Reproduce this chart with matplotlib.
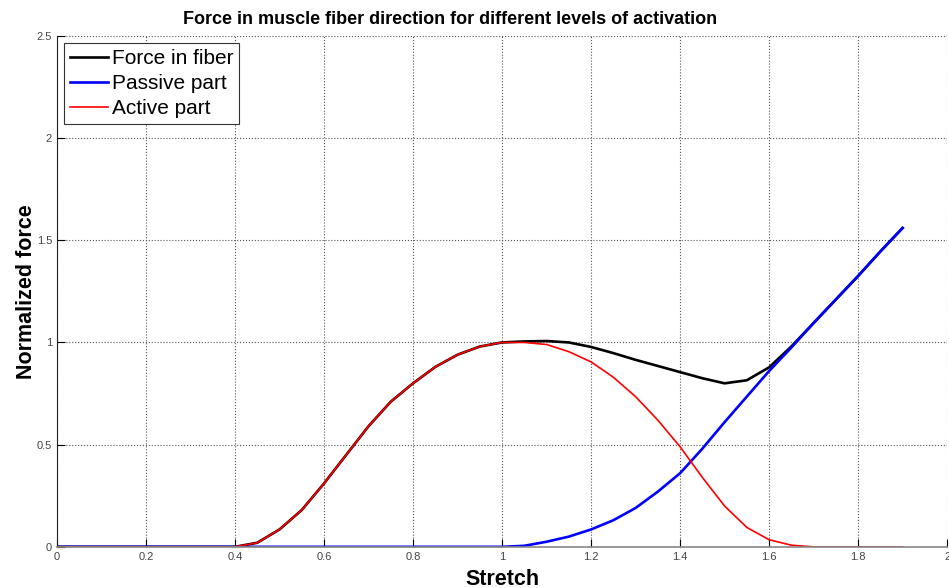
"""Force in muscle fibre direction: total, passive and active parts vs stretch."""

import numpy as np
import matplotlib

matplotlib.use("Agg")
import matplotlib.pyplot as plt

plt.rcParams["font.family"] = ["Liberation Sans", "DejaVu Sans"]

# stretch grid (0 .. 1.9, step 0.05) and curves
stretch = [
    0.00, 0.05, 0.10, 0.15, 0.20, 0.25, 0.30, 0.35, 0.40, 0.45,
    0.50, 0.55, 0.60, 0.65, 0.70, 0.75, 0.80, 0.85, 0.90, 0.95,
    1.00, 1.05, 1.10, 1.15, 1.20, 1.25, 1.30, 1.35, 1.40, 1.45,
    1.50, 1.55, 1.60, 1.65, 1.70, 1.75, 1.80, 1.85, 1.90,
]
active = [
    0.0, 0.0, 0.0, 0.0, 0.0, 0.0, 0.0, 0.0, 0.0, 0.02,
    0.085, 0.18, 0.31, 0.45, 0.59, 0.71, 0.80, 0.88, 0.94, 0.98,
    1.0, 1.0, 0.99, 0.955, 0.905, 0.83, 0.735, 0.62, 0.49, 0.34,
    0.2, 0.095, 0.035, 0.008, 0.0, 0.0, 0.0, 0.0, 0.0,
]
passive = [
    0.0, 0.0, 0.0, 0.0, 0.0, 0.0, 0.0, 0.0, 0.0, 0.0,
    0.0, 0.0, 0.0, 0.0, 0.0, 0.0, 0.0, 0.0, 0.0, 0.0,
    0.0, 0.005, 0.025, 0.05, 0.085, 0.13, 0.19, 0.27, 0.36, 0.48,
    0.61, 0.735, 0.86, 0.975, 1.095, 1.21, 1.325, 1.445, 1.56,
]
total = [
    0.0, 0.0, 0.0, 0.0, 0.0, 0.0, 0.0, 0.0, 0.0, 0.02,
    0.085, 0.18, 0.31, 0.45, 0.59, 0.71, 0.80, 0.88, 0.94, 0.98,
    1.0, 1.005, 1.007, 1.0, 0.978, 0.948, 0.915, 0.885, 0.855, 0.825,
    0.8, 0.815, 0.878, 0.98, 1.095, 1.21, 1.325, 1.445, 1.56,
]

xticks = [0, 0.2, 0.4, 0.6, 0.8, 1, 1.2, 1.4, 1.6, 1.8, 2]
yticks = [0, 0.5, 1, 1.5, 2, 2.5]

fig = plt.figure(figsize=(9.49, 5.88), dpi=100)
ax = fig.add_axes([0.060, 0.070, 0.938, 0.869])

ax.plot(stretch, total, color="black", lw=1.9, label="Force in fiber")
ax.plot(stretch, passive, color="#0000ff", lw=1.9, label="Passive part")
ax.plot(stretch, active, color="#ff0000", lw=1.2, label="Active part")

ax.set_xlim(0, 2)
ax.set_ylim(0, 2.5)
ax.set_xticks(xticks)
ax.set_xticklabels([f"{t:g}" for t in xticks])
ax.set_yticks(yticks)
ax.set_yticklabels([f"{t:g}" for t in yticks])
ax.tick_params(direction="in", length=6, width=0.8, labelsize=8,
               labelcolor="#444444", color="black")
ax.grid(True, ls=":", lw=0.8, color="#555555")

ax.spines["top"].set_visible(False)
ax.spines["right"].set_visible(False)
ax.spines["left"].set_color("#222222")
ax.spines["bottom"].set_color("#888888")
ax.spines["bottom"].set_linewidth(1.2)

ax.set_xlabel("Stretch", fontsize=15.5, fontweight="bold", labelpad=5)
ax.set_ylabel("Normalized force", fontsize=15.5, fontweight="bold", labelpad=0)
fig.text(0.474, 0.966, "Force in muscle fiber direction for different levels of activation",
         ha="center", va="center", fontsize=13, fontweight="bold")

leg = ax.legend(loc="upper left", fontsize=15, handlelength=1.8, handletextpad=0.22,
                borderaxespad=0.35, borderpad=0.28, labelspacing=0.3, fancybox=False,
                framealpha=1, edgecolor="#333333")
leg.get_frame().set_linewidth(0.8)

fig.savefig("out.png", dpi=100)
